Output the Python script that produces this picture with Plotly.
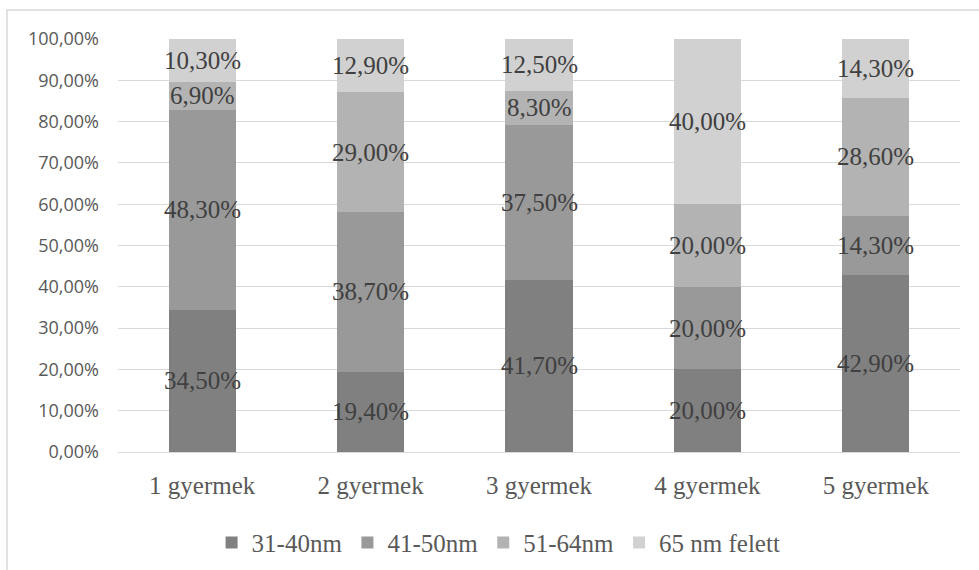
import plotly.graph_objects as go

categories = ["1 gyermek", "2 gyermek", "3 gyermek", "4 gyermek", "5 gyermek"]
series_names = ["31-40nm", "41-50nm", "51-64nm", "65 nm felett"]
s31_40 = [34.5, 19.4, 41.7, 20.0, 42.9]
s41_50 = [48.3, 38.7, 37.5, 20.0, 14.3]
s51_64 = [6.9, 29.0, 8.3, 20.0, 28.6]
s65 = [10.3, 12.9, 12.5, 40.0, 14.3]
colors = ["#808080", "#999999", "#b3b3b3", "#d1d1d1"]
y_ticks = [i / 10 for i in range(11)]

SERIF = "Liberation Serif, Times New Roman, serif"

fig = go.Figure()
annotations = []
base = [0.0] * len(categories)
for name, vals, col in zip(series_names, [s31_40, s41_50, s51_64, s65], colors):
    fracs = [v / 100 for v in vals]
    fig.add_trace(go.Bar(
        x=categories, y=fracs, name=name,
        marker=dict(color=col, line=dict(width=0)),
        hoverinfo="name+y",
    ))
    for i, (c, f, v) in enumerate(zip(categories, fracs, vals)):
        annotations.append(dict(
            x=c, y=base[i] + f / 2, xref="x", yref="y",
            text=f"{v:.2f}%".replace(".", ","), showarrow=False,
            font=dict(family=SERIF, size=25, color="#404040"),
        ))
        base[i] += f

fig.update_layout(
    barmode="stack", bargap=0.6,
    width=979, height=570,
    margin=dict(l=118, r=19, t=39, b=118, autoexpand=False),
    plot_bgcolor="white", paper_bgcolor="white",
    separators=", ",
    showlegend=True,
    annotations=annotations,
    legend=dict(orientation="h", x=0.452, xanchor="center", y=-0.22, yanchor="middle",
                font=dict(family=SERIF, size=25, color="#595959"),
                traceorder="normal"),
    yaxis=dict(range=[0, 1], tickvals=y_ticks, tickformat=".2%",
               showgrid=True, gridcolor="#d9d9d9", gridwidth=1, zeroline=False,
               tickfont=dict(family="Open Sans", size=18, color="#595959"),
               ticks="", showline=False, ticklabelstandoff=18),
    xaxis=dict(showline=True, linecolor="#d9d9d9", linewidth=1, ticks="",
               tickfont=dict(family=SERIF, size=25, color="#595959"),
               ticklabelstandoff=11),
    shapes=[dict(type="rect", xref="paper", yref="paper",
                 x0=(7 - 118) / 842, x1=(985 - 118) / 842,
                 y0=(452 - 575) / 413, y1=(452 - 10) / 413,
                 line=dict(color="#d9d9d9", width=1.5), layer="below")],
)

fig.write_html("out.html", config={"displayModeBar": False},
               post_script="document.body.style.margin='0';")
